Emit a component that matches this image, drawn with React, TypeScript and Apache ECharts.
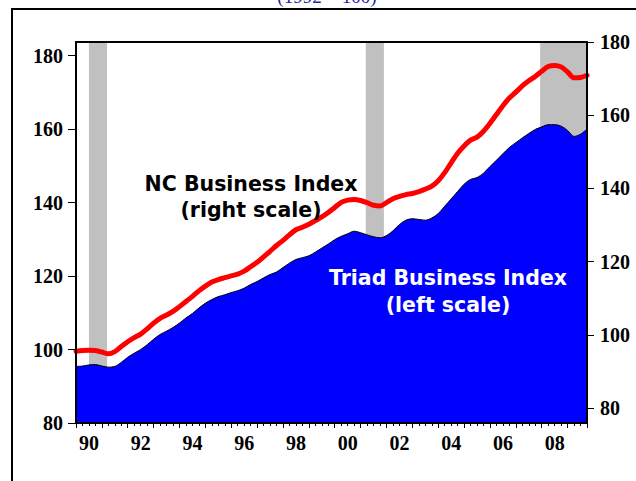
import React, { useEffect, useRef } from "react";
import * as echarts from "echarts";

// Quarterly observations, 1990Q1 .. 2009Q4
const startYear = 1990;
const quarterCount = 80;

// Triad Business Index (left scale), 1992 = 100
const triadIndex = [
  95.4, 95.5, 95.8, 95.9, 95.5, 95.2, 95.4, 96.5, 97.9, 99.0,
  100.0, 101.3, 102.8, 104.1, 105.0, 106.0, 107.2, 108.6, 109.8, 111.3,
  112.6, 113.6, 114.4, 114.9, 115.5, 116.0, 116.7, 117.7, 118.5, 119.5,
  120.4, 121.1, 122.3, 123.5, 124.5, 125.0, 125.5, 126.5, 127.6, 128.7,
  129.9, 130.8, 131.5, 132.2, 131.8, 131.2, 130.7, 130.4, 131.0, 132.3,
  134.0, 135.2, 135.6, 135.4, 135.2, 135.8, 137.0, 139.0, 141.0, 143.0,
  145.0, 146.3, 146.8, 148.0, 149.8, 151.5, 153.3, 155.0, 156.3, 157.6,
  158.8, 159.9, 160.6, 161.2, 161.2, 160.8, 159.6, 158.0, 158.6, 160.0,
];

// NC Business Index (right scale)
const ncIndex = [
  95.5, 95.7, 95.8, 95.7, 95.3, 94.8, 95.4, 96.8, 98.1, 99.2,
  100.2, 101.6, 103.2, 104.5, 105.4, 106.4, 107.7, 109.1, 110.5, 112.0,
  113.3, 114.4, 115.1, 115.6, 116.1, 116.6, 117.4, 118.6, 119.8, 121.3,
  122.8, 124.4, 125.8, 127.3, 128.7, 129.4, 130.2, 131.2, 132.2, 133.4,
  134.8, 136.2, 136.8, 137.0, 136.7, 136.1, 135.4, 135.2, 136.1, 137.2,
  137.8, 138.3, 138.6, 139.1, 139.8, 140.6, 142.1, 144.3, 147.0, 149.6,
  151.6, 153.2, 154.0, 155.6, 157.8, 160.2, 162.6, 164.7, 166.3, 168.0,
  169.4, 170.6, 172.0, 173.3, 173.6, 173.2, 171.8, 170.2, 170.3, 170.9,
];

// Recession periods (start, end) in fractional years
const recessions = [
  [1990.5, 1991.2],
  [2001.2, 2001.9],
  [2007.94, 2009.75],
];

const yTickValues = [80, 100, 120, 140, 160, 180];
const xLabelYears = [1990, 1992, 1994, 1996, 1998, 2000, 2002, 2004, 2006, 2008];

const leftMin = 80;
const leftMax = 183.7;
const rightMin = 75.9;
const rightMax = 180;
const xMin = 1990;
const xMax = 2009.75;

export default function App() {
  const ref = useRef<HTMLDivElement>(null);

  useEffect(() => {
    if (!ref.current) return;
    const chart = echarts.init(ref.current, undefined, { renderer: "svg" });

    const times = Array.from({ length: quarterCount }, (_, i) => startYear + i * 0.25);
    const triadData = times.map((t, i) => [t, triadIndex[i]]);
    const ncData = times.map((t, i) => [t, ncIndex[i]]);

    const labelFont = {
      fontFamily: "Liberation Serif",
      fontWeight: "bold" as const,
      fontSize: 20,
      color: "#000",
    };

    const option: any = {
      animation: false,
      backgroundColor: "#fff",
      grid: { left: 76, top: 42, width: 511, height: 381, containLabel: false },
      xAxis: [
        {
          type: "value",
          position: "bottom",
          min: xMin,
          max: xMax,
          interval: 1,
          z: 10,
          axisLine: { show: true, lineStyle: { color: "#000", width: 2 } },
          axisTick: { show: true, length: 5, inside: false, lineStyle: { color: "#000", width: 1 } },
          minorTick: { show: true, splitNumber: 4, length: 3, lineStyle: { color: "#000", width: 1 } },
          splitLine: { show: false },
          minorSplitLine: { show: false },
          axisLabel: {
            ...labelFont,
            margin: 10,
            customValues: xLabelYears.map((y) => y + 0.5),
            formatter: (v: number) => String(Math.floor(v + 0.001)).slice(2),
          },
        },
        {
          type: "value",
          position: "top",
          min: xMin,
          max: xMax,
          z: 10,
          axisLine: { show: true, lineStyle: { color: "#000", width: 2 } },
          axisTick: { show: false },
          axisLabel: { show: false },
          splitLine: { show: false },
        },
      ],
      yAxis: [
        {
          type: "value",
          position: "left",
          min: leftMin,
          max: leftMax,
          z: 10,
          axisLine: { show: true, lineStyle: { color: "#000", width: 2 } },
          axisTick: {
            show: true,
            length: 8,
            customValues: yTickValues,
            lineStyle: { color: "#000", width: 1 },
          },
          axisLabel: { ...labelFont, margin: 13, customValues: yTickValues },
          splitLine: { show: false },
        },
        {
          type: "value",
          position: "right",
          min: rightMin,
          max: rightMax,
          z: 10,
          axisLine: { show: true, lineStyle: { color: "#000", width: 2 } },
          axisTick: {
            show: true,
            length: 7,
            customValues: yTickValues,
            lineStyle: { color: "#000", width: 1 },
          },
          axisLabel: { ...labelFont, margin: 13, customValues: yTickValues },
          splitLine: { show: false },
        },
      ],
      series: [
        {
          type: "custom",
          name: "Recessions",
          xAxisIndex: 0,
          yAxisIndex: 0,
          z: 1,
          clip: true,
          silent: true,
          data: recessions,
          encode: { x: [0, 1] },
          renderItem: (params: any, api: any) => {
            const p0 = api.coord([api.value(0), leftMax]);
            const p1 = api.coord([api.value(1), leftMin]);
            return {
              type: "rect",
              shape: { x: p0[0], y: p0[1], width: p1[0] - p0[0], height: p1[1] - p0[1] },
              style: { fill: "#C0C0C0" },
            };
          },
        },
        {
          type: "line",
          name: "Triad Business Index",
          xAxisIndex: 0,
          yAxisIndex: 0,
          z: 2,
          data: triadData,
          smooth: 0.3,
          showSymbol: false,
          symbol: "none",
          clip: true,
          lineStyle: { color: "#000", width: 1 },
          areaStyle: { color: "#0000FF", opacity: 1, origin: "start" },
        },
        {
          type: "line",
          name: "NC Business Index",
          xAxisIndex: 0,
          yAxisIndex: 1,
          z: 3,
          data: ncData,
          smooth: 0.3,
          showSymbol: false,
          symbol: "none",
          clip: true,
          lineStyle: { color: "#FF0000", width: 5, cap: "round", join: "round" },
        },
      ],
      graphic: [
        {
          type: "rect",
          x: 12,
          y: 9,
          z: 0,
          silent: true,
          shape: { x: 0, y: 0, width: 700, height: 600 },
          style: { fill: "none", stroke: "#000", lineWidth: 2 },
        },
        {
          type: "text",
          x: 327,
          y: 6,
          z: 20,
          style: {
            text: "(1992 = 100)",
            fill: "#1F1F9F",
            font: "19px 'Liberation Serif'",
            align: "center",
            verticalAlign: "bottom",
          },
        },
        {
          type: "text",
          x: 251,
          y: 197,
          z: 20,
          style: {
            text: "NC Business Index\n(right scale)",
            fill: "#000",
            font: "bold 20.5px 'DejaVu Sans'",
            lineHeight: 26,
            align: "center",
            verticalAlign: "middle",
          },
        },
        {
          type: "text",
          x: 448,
          y: 291,
          z: 20,
          style: {
            text: "Triad Business Index\n(left scale)",
            fill: "#fff",
            font: "bold 20.5px 'DejaVu Sans'",
            lineHeight: 27,
            align: "center",
            verticalAlign: "middle",
          },
        },
      ],
    };

    chart.setOption(option);
    return () => chart.dispose();
  }, []);

  return (
    <div
      ref={ref}
      style={{ position: "fixed", left: 0, top: 0, width: 636, height: 481 }}
    />
  );
}
